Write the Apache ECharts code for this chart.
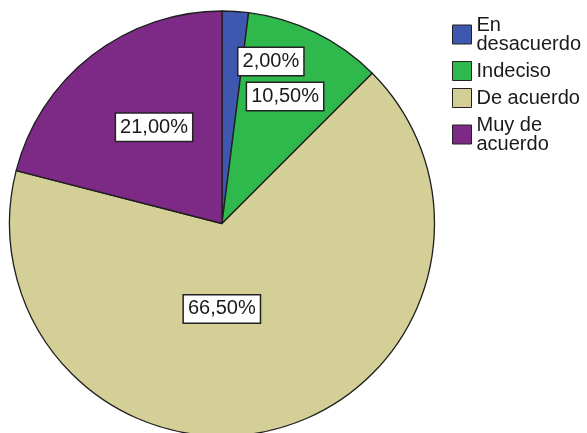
<!DOCTYPE html>
<html>
<head>
<meta charset="utf-8">
<script src="https://cdn.jsdelivr.net/npm/echarts@6/dist/echarts.min.js"></script>
<style>
  html, body { margin: 0; padding: 0; background: #ffffff; }
  #chart { width: 587px; height: 433px; }
</style>
</head>
<body>
<div id="chart"></div>
<script>
// Response categories and their shares (%)
const categories = ['En\ndesacuerdo', 'Indeciso', 'De acuerdo', 'Muy de\nacuerdo'];
const percentages = [2.0, 10.5, 66.5, 21.0];
const sliceColors = ['#3d58ae', '#2fb84b', '#d4ce97', '#7d2a87'];

// Nudges of each value label away from the default in-slice spot
const labelShift = [[42, -53], [15, -29], [-29, -20], [-1, -10]];

function formatPct(v) {
  return v.toFixed(2).replace('.', ',') + '%';
}

const chart = echarts.init(document.getElementById('chart'), null, { renderer: 'canvas' });

chart.setOption({
  animation: false,
  backgroundColor: '#ffffff',
  textStyle: { fontFamily: 'Liberation Sans, Arial, sans-serif' },
  legend: {
    orient: 'vertical',
    left: 447,
    top: 10,
    itemWidth: 19,
    itemHeight: 19,
    itemGap: 7,
    selectedMode: false,
    icon: 'rect',
    itemStyle: { borderColor: '#222222', borderWidth: 1 },
    textStyle: {
      fontFamily: 'Liberation Sans, Arial, sans-serif',
      fontSize: 20,
      lineHeight: 19,
      color: '#1a1a1a'
    },
    data: categories
  },
  series: [{
    type: 'pie',
    center: [222, 223.5],
    radius: [0, 212.5],
    startAngle: 90,
    clockwise: true,
    avoidLabelOverlap: false,
    emphasis: { disabled: true },
    itemStyle: { borderColor: '#1e1e1e', borderWidth: 1.3 },
    label: {
      show: true,
      position: 'inside',
      formatter: p => formatPct(p.value),
      fontFamily: 'Liberation Sans, Arial, sans-serif',
      fontSize: 20,
      color: '#1a1a1a',
      backgroundColor: '#ffffff',
      borderColor: '#222222',
      borderWidth: 1.5,
      padding: [4, 4, 3, 4]
    },
    labelLine: { show: false },
    labelLayout: function (params) {
      const s = labelShift[params.dataIndex];
      return { dx: s[0], dy: s[1] };
    },
    data: categories.map((name, i) => ({
      name: name,
      value: percentages[i],
      itemStyle: { color: sliceColors[i] }
    }))
  }]
});
</script>
</body>
</html>
